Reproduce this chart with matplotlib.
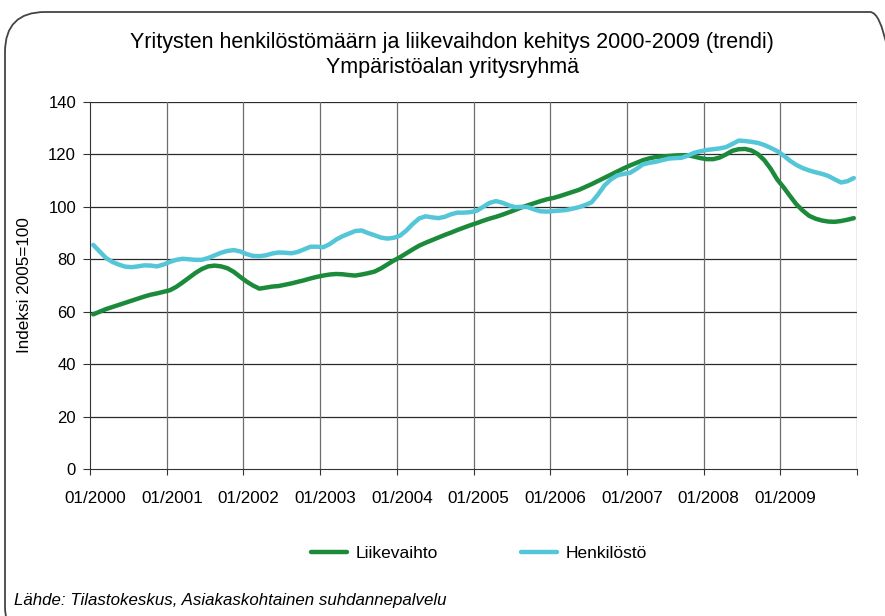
import numpy as np
import matplotlib
matplotlib.use('Agg')
import matplotlib.pyplot as plt
from matplotlib.patches import FancyBboxPatch

plt.rcParams['font.family'] = ['Liberation Sans', 'DejaVu Sans']

# x-axis labels (one per year, monthly data)
vuodet = ['01/2000', '01/2001', '01/2002', '01/2003', '01/2004',
          '01/2005', '01/2006', '01/2007', '01/2008', '01/2009']

# Liikevaihto, monthly trend 01/2000 - 12/2009 (index 2005=100)
liikevaihto = [
    59.0, 60.0, 61.0, 61.8, 62.6, 63.4, 64.2, 65.0, 65.8, 66.5, 67.0, 67.6,
    68.2, 69.5, 71.2, 73.0, 74.8, 76.3, 77.3, 77.6, 77.3, 76.6, 75.2, 73.3,
    71.5, 70.0, 68.8, 69.2, 69.6, 69.8, 70.3, 70.8, 71.4, 72.0, 72.7, 73.3,
    73.8, 74.2, 74.4, 74.3, 74.0, 73.8, 74.2, 74.7, 75.3, 76.5, 78.0, 79.5,
    80.8, 82.3, 83.8, 85.2, 86.3, 87.3, 88.3, 89.3, 90.2, 91.2, 92.1, 93.0,
    93.8, 94.7, 95.5, 96.2, 97.0, 97.9, 98.8, 99.8, 100.6, 101.4, 102.2, 102.9,
    103.4, 104.1, 104.9, 105.7, 106.5, 107.6, 108.7, 109.9, 111.1, 112.3, 113.5, 114.7,
    115.8, 116.8, 117.8, 118.5, 119.0, 119.2, 119.4, 119.6, 119.7, 119.7, 119.2, 118.6,
    118.2, 118.2, 118.8, 120.0, 121.4, 122.0, 122.1, 121.5, 120.1, 117.8, 114.5, 110.5,
    107.5, 104.2, 101.0, 98.6, 96.6, 95.5, 94.8, 94.4, 94.3, 94.6, 95.1, 95.7]

# Henkilöstö, monthly trend 01/2000 - 12/2009
henkilosto = [
    85.5, 83.0, 80.5, 79.0, 78.0, 77.2, 77.0, 77.3, 77.7, 77.6, 77.3, 78.0,
    79.0, 79.8, 80.2, 80.0, 79.8, 79.8, 80.5, 81.5, 82.5, 83.2, 83.5, 83.0,
    82.0, 81.3, 81.2, 81.5, 82.2, 82.6, 82.5, 82.3, 82.8, 83.8, 84.8, 84.8,
    84.6, 85.8, 87.5, 88.8, 89.8, 90.8, 91.0, 90.0, 89.2, 88.3, 87.9, 88.2,
    89.0, 91.0, 93.5, 95.6, 96.4, 96.0, 95.7, 96.2, 97.2, 97.8, 97.8, 98.0,
    98.5, 100.0, 101.5, 102.2, 101.6, 100.6, 99.9, 100.0, 99.9, 99.0, 98.3, 98.2,
    98.4, 98.6, 98.8, 99.3, 99.9, 100.7, 101.8, 104.8, 108.2, 110.5, 112.0, 112.6,
    113.0, 114.5, 116.2, 116.8, 117.2, 117.8, 118.4, 118.6, 118.7, 119.5, 120.6, 121.2,
    121.7, 122.0, 122.3, 122.8, 124.0, 125.3, 125.1, 124.8, 124.4, 123.6, 122.5, 121.3,
    119.6, 117.6, 116.0, 114.8, 113.9, 113.2, 112.6, 111.8, 110.5, 109.3, 109.8, 111.0]

vihrea = '#1b8a3a'
syaani = '#55c6d8'

fig = plt.figure(figsize=(8.85, 6.16), dpi=100)
ax = fig.add_axes([0.1017, 0.2386, 0.8667, 0.5958])

kk = np.arange(len(liikevaihto)) + 0.5
ax.plot(kk, liikevaihto, color=vihrea, lw=3.2, label='Liikevaihto', solid_capstyle='round')
ax.plot(kk, henkilosto, color=syaani, lw=3.2, label='Henkilöstö', solid_capstyle='round')

ax.set_xlim(0, 120)
ax.set_ylim(0, 140)
ax.set_yticks(range(0, 141, 20))
# tick marks at year boundaries, labels slightly right of them
ax.set_xticks(range(0, 121, 12))
ax.set_xticklabels([])
ax.set_xticks(np.arange(len(vuodet)) * 12 + 0.8, minor=True)
ax.set_xticklabels(vuodet, minor=True)

# grid: dark horizontal, grey vertical
for y in range(20, 141, 20):
    ax.axhline(y, color='#2a2a2a', lw=0.9, zorder=0.5)
for x in range(12, 121, 12):
    ax.axvline(x, color='#6e6e6e', lw=0.9, zorder=0.5)

ax.spines['top'].set_visible(False)
ax.spines['right'].set_visible(False)
ax.spines['left'].set_color('#333333')
ax.spines['bottom'].set_color('#333333')
ax.tick_params(axis='y', labelsize=12, length=5, pad=5, color='#333333')
ax.tick_params(axis='x', which='major', length=4, color='#333333')
ax.tick_params(axis='x', which='minor', labelsize=12.3, length=0, pad=16)
ax.set_ylabel('Indeksi 2005=100', fontsize=12.3, labelpad=12)

fig.text(0.511, 0.91, 'Yritysten henkilöstömäärn ja liikevaihdon kehitys 2000-2009 (trendi)\nYmpäristöalan yritysryhmä',
         ha='center', va='center', fontsize=15.5, linespacing=1.25)

fig.legend(loc='center', bbox_to_anchor=(0.541, 0.102), ncol=2, frameon=False,
           fontsize=12.5, handlelength=2.1, handletextpad=0.5, columnspacing=4.75)

fig.text(0.016, 0.018, 'Lähde: Tilastokeskus, Asiakaskohtainen suhdannepalvelu',
         fontsize=12.2, style='italic', ha='left', va='baseline')

# rounded frame around the slide
kehys = FancyBboxPatch((5, -30), 905, 634, boxstyle='round,pad=0,rounding_size=40',
                       transform=None, fill=False, edgecolor='#444444', lw=1.3, clip_on=False)
fig.patches.append(kehys)

fig.savefig('out.png', dpi=100)
